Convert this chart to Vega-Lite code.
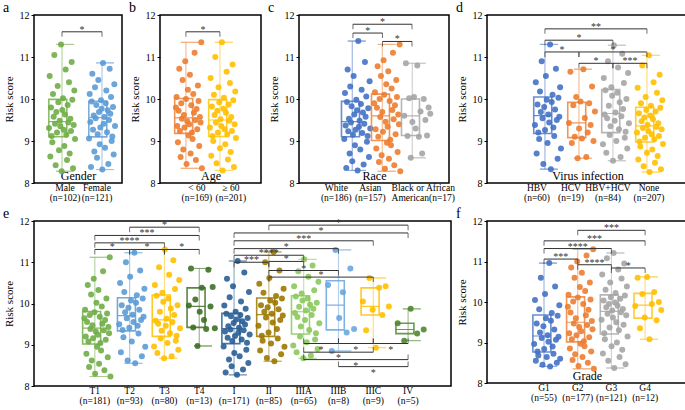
{
"$schema": "https://vega.github.io/schema/vega-lite/v6.json",
"padding": {"left": 2, "top": 0, "right": 0, "bottom": 0},
"background": "white",
"spacing": 3,
"resolve": {"scale": {"color": "independent"}},
"datasets": {
"a": [
{"g":"Male","v":9.31},{"g":"Male","v":10.55},{"g":"Male","v":8.63},{"g":"Male","v":9.8},{"g":"Male","v":9.12},{"g":"Male","v":8.97},{"g":"Male","v":10.12},{"g":"Male","v":9.58},{"g":"Male","v":11.05},{"g":"Male","v":9.41},
{"g":"Male","v":8.42},{"g":"Male","v":9.69},{"g":"Male","v":9.2},{"g":"Male","v":10.31},{"g":"Male","v":9.92},{"g":"Male","v":8.78},{"g":"Male","v":9.48},{"g":"Male","v":9.35},{"g":"Male","v":11.3},{"g":"Male","v":8.28},
{"g":"Male","v":9.74},{"g":"Male","v":10.02},{"g":"Male","v":9.27},{"g":"Male","v":8.88},{"g":"Male","v":9.63},{"g":"Male","v":10.7},{"g":"Male","v":9.15},{"g":"Male","v":8.55},{"g":"Male","v":9.86},{"g":"Male","v":9.44},
{"g":"Male","v":10.4},{"g":"Male","v":8.7},{"g":"Male","v":9.53},{"g":"Male","v":9.24},{"g":"Male","v":10.88},{"g":"Male","v":9.98},{"g":"Male","v":8.35},{"g":"Male","v":9.38},{"g":"Male","v":10.2},{"g":"Male","v":9.05},
{"g":"Female","v":9.06},{"g":"Female","v":10.12},{"g":"Female","v":9.45},{"g":"Female","v":8.38},{"g":"Female","v":9.94},{"g":"Female","v":10.6},{"g":"Female","v":9.27},{"g":"Female","v":9.61},{"g":"Female","v":8.75},{"g":"Female","v":10.28},
{"g":"Female","v":9.54},{"g":"Female","v":9.86},{"g":"Female","v":8.6},{"g":"Female","v":9.16},{"g":"Female","v":10.45},{"g":"Female","v":9.69},{"g":"Female","v":8.92},{"g":"Female","v":9.32},{"g":"Female","v":9.97},{"g":"Female","v":9.77},
{"g":"Female","v":8.32},{"g":"Female","v":10.86},{"g":"Female","v":9.41},{"g":"Female","v":9.57},{"g":"Female","v":8.84},{"g":"Female","v":9.9},{"g":"Female","v":10.2},{"g":"Female","v":9.21},{"g":"Female","v":9.73},{"g":"Female","v":8.45},
{"g":"Female","v":9.5},{"g":"Female","v":10.72},{"g":"Female","v":9.65},{"g":"Female","v":10.05},{"g":"Female","v":9.0},{"g":"Female","v":9.11},{"g":"Female","v":9.81},{"g":"Female","v":8.68},{"g":"Female","v":10.35},{"g":"Female","v":9.36}
],
"a_br": [{"id":1,"x1":1,"x2":2,"y":11.6,"lab":"*"}],
"b": [
{"g":"<60","v":9.8},{"g":"<60","v":10.05},{"g":"<60","v":9.36},{"g":"<60","v":8.97},{"g":"<60","v":9.72},{"g":"<60","v":10.72},{"g":"<60","v":9.24},{"g":"<60","v":8.62},{"g":"<60","v":9.9},{"g":"<60","v":9.53},
{"g":"<60","v":10.45},{"g":"<60","v":8.8},{"g":"<60","v":9.62},{"g":"<60","v":9.32},{"g":"<60","v":10.9},{"g":"<60","v":10.0},{"g":"<60","v":8.45},{"g":"<60","v":9.47},{"g":"<60","v":10.22},{"g":"<60","v":9.13},
{"g":"<60","v":9.4},{"g":"<60","v":10.58},{"g":"<60","v":8.7},{"g":"<60","v":9.85},{"g":"<60","v":9.2},{"g":"<60","v":9.05},{"g":"<60","v":10.12},{"g":"<60","v":9.67},{"g":"<60","v":11.1},{"g":"<60","v":9.5},
{"g":"<60","v":8.55},{"g":"<60","v":9.76},{"g":"<60","v":9.28},{"g":"<60","v":10.32},{"g":"<60","v":9.95},{"g":"<60","v":8.88},{"g":"<60","v":9.57},{"g":"<60","v":9.44},{"g":"<60","v":11.35},{"g":"<60","v":8.35},
{"g":"≥60","v":9.32},{"g":"≥60","v":10.5},{"g":"≥60","v":8.65},{"g":"≥60","v":9.82},{"g":"≥60","v":9.12},{"g":"≥60","v":9.0},{"g":"≥60","v":10.1},{"g":"≥60","v":9.62},{"g":"≥60","v":11.0},{"g":"≥60","v":9.44},
{"g":"≥60","v":8.47},{"g":"≥60","v":9.72},{"g":"≥60","v":9.2},{"g":"≥60","v":10.28},{"g":"≥60","v":9.92},{"g":"≥60","v":8.83},{"g":"≥60","v":9.52},{"g":"≥60","v":9.36},{"g":"≥60","v":11.35},{"g":"≥60","v":8.3},
{"g":"≥60","v":9.77},{"g":"≥60","v":10.03},{"g":"≥60","v":9.28},{"g":"≥60","v":8.92},{"g":"≥60","v":9.67},{"g":"≥60","v":10.65},{"g":"≥60","v":9.16},{"g":"≥60","v":8.56},{"g":"≥60","v":9.87},{"g":"≥60","v":9.48},
{"g":"≥60","v":10.38},{"g":"≥60","v":8.74},{"g":"≥60","v":9.57},{"g":"≥60","v":9.24},{"g":"≥60","v":10.82},{"g":"≥60","v":9.97},{"g":"≥60","v":8.38},{"g":"≥60","v":9.4},{"g":"≥60","v":10.18},{"g":"≥60","v":9.07}
],
"b_br": [{"id":1,"x1":1,"x2":2,"y":11.6,"lab":"*"}],
"c": [
{"g":"White","v":9.05},{"g":"White","v":10.14},{"g":"White","v":9.37},{"g":"White","v":8.36},{"g":"White","v":9.93},{"g":"White","v":10.7},{"g":"White","v":9.23},{"g":"White","v":9.53},{"g":"White","v":8.7},{"g":"White","v":10.3},
{"g":"White","v":9.44},{"g":"White","v":9.83},{"g":"White","v":8.52},{"g":"White","v":9.15},{"g":"White","v":10.55},{"g":"White","v":9.63},{"g":"White","v":8.9},{"g":"White","v":9.27},{"g":"White","v":9.98},{"g":"White","v":9.73},
{"g":"White","v":8.3},{"g":"White","v":11.38},{"g":"White","v":9.34},{"g":"White","v":9.48},{"g":"White","v":8.8},{"g":"White","v":9.88},{"g":"White","v":10.22},{"g":"White","v":9.19},{"g":"White","v":9.68},{"g":"White","v":8.44},
{"g":"White","v":9.41},{"g":"White","v":10.88},{"g":"White","v":9.58},{"g":"White","v":10.06},{"g":"White","v":8.98},{"g":"White","v":9.12},{"g":"White","v":9.78},{"g":"White","v":8.62},{"g":"White","v":10.42},{"g":"White","v":9.3},
{"g":"Asian","v":9.9},{"g":"Asian","v":10.16},{"g":"Asian","v":9.28},{"g":"Asian","v":8.82},{"g":"Asian","v":9.79},{"g":"Asian","v":10.78},{"g":"Asian","v":9.1},{"g":"Asian","v":8.5},{"g":"Asian","v":10.0},{"g":"Asian","v":9.57},
{"g":"Asian","v":10.55},{"g":"Asian","v":8.66},{"g":"Asian","v":9.69},{"g":"Asian","v":9.22},{"g":"Asian","v":10.92},{"g":"Asian","v":10.1},{"g":"Asian","v":8.34},{"g":"Asian","v":9.46},{"g":"Asian","v":10.35},{"g":"Asian","v":8.96},
{"g":"Asian","v":9.34},{"g":"Asian","v":10.66},{"g":"Asian","v":8.58},{"g":"Asian","v":9.95},{"g":"Asian","v":9.03},{"g":"Asian","v":8.9},{"g":"Asian","v":10.25},{"g":"Asian","v":9.74},{"g":"Asian","v":11.1},{"g":"Asian","v":9.52},
{"g":"Asian","v":8.42},{"g":"Asian","v":9.85},{"g":"Asian","v":9.16},{"g":"Asian","v":10.45},{"g":"Asian","v":10.05},{"g":"Asian","v":8.74},{"g":"Asian","v":9.63},{"g":"Asian","v":9.4},{"g":"Asian","v":11.3},{"g":"Asian","v":8.28},
{"g":"Black","v":9.6},{"g":"Black","v":10.85},{"g":"Black","v":9.12},{"g":"Black","v":10.02},{"g":"Black","v":8.6},{"g":"Black","v":9.45},{"g":"Black","v":10.05},{"g":"Black","v":9.3},{"g":"Black","v":10.8},{"g":"Black","v":9.1},
{"g":"Black","v":9.7},{"g":"Black","v":8.7},{"g":"Black","v":10.0},{"g":"Black","v":9.5},{"g":"Black","v":9.13},{"g":"Black","v":9.8},{"g":"Black","v":9.65}
],
"c_br": [{"id":1,"x1":1,"x2":3,"y":11.78,"lab":"*"},{"id":2,"x1":1,"x2":2,"y":11.57,"lab":"*"},{"id":3,"x1":2,"x2":3,"y":11.37,"lab":"*"}],
"d": [
{"g":"HBV","v":9.38},{"g":"HBV","v":10.4},{"g":"HBV","v":8.7},{"g":"HBV","v":9.87},{"g":"HBV","v":9.2},{"g":"HBV","v":9.05},{"g":"HBV","v":10.18},{"g":"HBV","v":9.69},{"g":"HBV","v":10.9},{"g":"HBV","v":9.54},
{"g":"HBV","v":8.45},{"g":"HBV","v":9.81},{"g":"HBV","v":9.26},{"g":"HBV","v":10.55},{"g":"HBV","v":9.98},{"g":"HBV","v":8.95},{"g":"HBV","v":9.63},{"g":"HBV","v":9.44},{"g":"HBV","v":11.3},{"g":"HBV","v":8.33},
{"g":"HBV","v":9.93},{"g":"HBV","v":10.1},{"g":"HBV","v":9.32},{"g":"HBV","v":9.12},{"g":"HBV","v":9.75},{"g":"HBV","v":10.72},{"g":"HBV","v":9.5},{"g":"HBV","v":8.58},{"g":"HBV","v":10.03},{"g":"HBV","v":9.58},
{"g":"HBV","v":10.28},{"g":"HBV","v":8.82},
{"g":"HCV","v":9.43},{"g":"HCV","v":10.65},{"g":"HCV","v":8.95},{"g":"HCV","v":9.85},{"g":"HCV","v":9.1},{"g":"HCV","v":10.05},{"g":"HCV","v":8.59},{"g":"HCV","v":9.3},{"g":"HCV","v":9.94},{"g":"HCV","v":9.06},
{"g":"HCV","v":10.71},{"g":"HCV","v":9.55},{"g":"HCV","v":8.62},{"g":"HCV","v":9.2},{"g":"HCV","v":9.9},{"g":"HCV","v":9.38},{"g":"HCV","v":10.3},{"g":"HCV","v":9.0},{"g":"HCV","v":9.7},
{"g":"HBV+HCV","v":8.92},{"g":"HBV+HCV","v":10.5},{"g":"HBV+HCV","v":9.63},{"g":"HBV+HCV","v":10.21},{"g":"HBV+HCV","v":8.72},{"g":"HBV+HCV","v":9.54},{"g":"HBV+HCV","v":10.9},{"g":"HBV+HCV","v":9.84},{"g":"HBV+HCV","v":9.14},{"g":"HBV+HCV","v":9.35},
{"g":"HBV+HCV","v":10.28},{"g":"HBV+HCV","v":10.08},{"g":"HBV+HCV","v":8.53},{"g":"HBV+HCV","v":11.28},{"g":"HBV+HCV","v":9.48},{"g":"HBV+HCV","v":9.68},{"g":"HBV+HCV","v":9.0},{"g":"HBV+HCV","v":10.15},{"g":"HBV+HCV","v":10.75},{"g":"HBV+HCV","v":9.28},
{"g":"HBV+HCV","v":9.92},{"g":"HBV+HCV","v":8.62},{"g":"HBV+HCV","v":9.59},{"g":"HBV+HCV","v":11.08},{"g":"HBV+HCV","v":9.76},{"g":"HBV+HCV","v":10.38},{"g":"HBV+HCV","v":9.08},{"g":"HBV+HCV","v":9.22},{"g":"HBV+HCV","v":10.0},{"g":"HBV+HCV","v":8.82},
{"g":"HBV+HCV","v":10.62},{"g":"HBV+HCV","v":9.42},
{"g":"None","v":9.2},{"g":"None","v":10.27},{"g":"None","v":8.56},{"g":"None","v":9.66},{"g":"None","v":8.99},{"g":"None","v":8.87},{"g":"None","v":9.9},{"g":"None","v":9.47},{"g":"None","v":10.8},{"g":"None","v":9.31},
{"g":"None","v":8.4},{"g":"None","v":9.56},{"g":"None","v":9.08},{"g":"None","v":10.05},{"g":"None","v":9.74},{"g":"None","v":8.72},{"g":"None","v":9.38},{"g":"None","v":9.24},{"g":"None","v":11.04},{"g":"None","v":8.26},
{"g":"None","v":9.61},{"g":"None","v":9.84},{"g":"None","v":9.16},{"g":"None","v":8.8},{"g":"None","v":9.52},{"g":"None","v":10.4},{"g":"None","v":9.04},{"g":"None","v":8.48},{"g":"None","v":9.7},{"g":"None","v":9.34},
{"g":"None","v":10.15},{"g":"None","v":8.64},{"g":"None","v":9.42},{"g":"None","v":9.12},{"g":"None","v":10.58},{"g":"None","v":9.79},{"g":"None","v":8.33},{"g":"None","v":9.28},{"g":"None","v":9.97},{"g":"None","v":8.93}
],
"d_br": [{"id":1,"x1":1,"x2":4,"y":11.67,"lab":"**"},{"id":2,"x1":1,"x2":3,"y":11.4,"lab":"*"},{"id":3,"x1":1,"x2":2,"y":11.12,"lab":"*"},{"id":4,"x1":2,"x2":4,"y":11.12,"lab":"*"},{"id":5,"x1":2,"x2":3,"y":10.85,"lab":"*"},{"id":6,"x1":3,"x2":4,"y":10.85,"lab":"***"}],
"e": [
{"g":"T1","v":9.64},{"g":"T1","v":9.85},{"g":"T1","v":9.2},{"g":"T1","v":8.78},{"g":"T1","v":9.55},{"g":"T1","v":10.45},{"g":"T1","v":9.08},{"g":"T1","v":8.46},{"g":"T1","v":9.72},{"g":"T1","v":9.38},
{"g":"T1","v":10.22},{"g":"T1","v":8.62},{"g":"T1","v":9.47},{"g":"T1","v":9.16},{"g":"T1","v":10.6},{"g":"T1","v":9.79},{"g":"T1","v":8.3},{"g":"T1","v":9.32},{"g":"T1","v":10.02},{"g":"T1","v":8.95},
{"g":"T1","v":9.24},{"g":"T1","v":10.33},{"g":"T1","v":8.54},{"g":"T1","v":9.68},{"g":"T1","v":9.04},{"g":"T1","v":8.86},{"g":"T1","v":9.93},{"g":"T1","v":9.51},{"g":"T1","v":10.78},{"g":"T1","v":9.35},
{"g":"T1","v":8.38},{"g":"T1","v":9.6},{"g":"T1","v":9.12},{"g":"T1","v":10.12},{"g":"T1","v":9.76},{"g":"T1","v":8.7},{"g":"T1","v":9.43},{"g":"T1","v":9.28},{"g":"T1","v":11.12},{"g":"T1","v":8.23},
{"g":"T2","v":9.5},{"g":"T2","v":10.5},{"g":"T2","v":8.82},{"g":"T2","v":9.96},{"g":"T2","v":9.36},{"g":"T2","v":9.18},{"g":"T2","v":10.28},{"g":"T2","v":9.79},{"g":"T2","v":11.0},{"g":"T2","v":9.64},
{"g":"T2","v":8.62},{"g":"T2","v":9.9},{"g":"T2","v":9.41},{"g":"T2","v":10.65},{"g":"T2","v":10.07},{"g":"T2","v":9.08},{"g":"T2","v":9.73},{"g":"T2","v":9.55},{"g":"T2","v":11.23},{"g":"T2","v":8.55},
{"g":"T2","v":10.02},{"g":"T2","v":10.2},{"g":"T2","v":9.46},{"g":"T2","v":9.27},{"g":"T2","v":9.85},{"g":"T2","v":10.8},{"g":"T2","v":9.6},{"g":"T2","v":8.72},{"g":"T2","v":10.12},{"g":"T2","v":9.68},
{"g":"T2","v":10.36},{"g":"T2","v":8.95},
{"g":"T3","v":8.96},{"g":"T3","v":10.45},{"g":"T3","v":9.58},{"g":"T3","v":10.19},{"g":"T3","v":8.8},{"g":"T3","v":9.51},{"g":"T3","v":10.88},{"g":"T3","v":9.8},{"g":"T3","v":9.15},{"g":"T3","v":9.34},
{"g":"T3","v":10.26},{"g":"T3","v":10.04},{"g":"T3","v":8.67},{"g":"T3","v":11.31},{"g":"T3","v":9.46},{"g":"T3","v":9.63},{"g":"T3","v":9.04},{"g":"T3","v":10.12},{"g":"T3","v":10.7},{"g":"T3","v":9.28},
{"g":"T3","v":9.88},{"g":"T3","v":8.72},{"g":"T3","v":9.55},{"g":"T3","v":11.05},{"g":"T3","v":9.72},{"g":"T3","v":10.35},{"g":"T3","v":9.1},{"g":"T3","v":9.22},{"g":"T3","v":9.96},{"g":"T3","v":8.88},
{"g":"T3","v":10.57},{"g":"T3","v":9.4},
{"g":"T4","v":9.95},{"g":"T4","v":10.85},{"g":"T4","v":9.42},{"g":"T4","v":10.1},{"g":"T4","v":8.97},{"g":"T4","v":9.8},{"g":"T4","v":10.38},{"g":"T4","v":9.6},{"g":"T4","v":9.38},{"g":"T4","v":10.82},
{"g":"T4","v":9.93},{"g":"T4","v":10.4},{"g":"T4","v":9.4},
{"g":"I","v":8.96},{"g":"I","v":9.95},{"g":"I","v":9.32},{"g":"I","v":8.33},{"g":"I","v":9.75},{"g":"I","v":10.6},{"g":"I","v":9.17},{"g":"I","v":9.45},{"g":"I","v":8.64},{"g":"I","v":10.15},
{"g":"I","v":9.37},{"g":"I","v":9.69},{"g":"I","v":8.48},{"g":"I","v":9.09},{"g":"I","v":10.42},{"g":"I","v":9.53},{"g":"I","v":8.8},{"g":"I","v":9.21},{"g":"I","v":9.8},{"g":"I","v":9.61},
{"g":"I","v":8.27},{"g":"I","v":11.03},{"g":"I","v":9.29},{"g":"I","v":9.41},{"g":"I","v":8.72},{"g":"I","v":9.72},{"g":"I","v":10.05},{"g":"I","v":9.13},{"g":"I","v":9.57},{"g":"I","v":8.4},
{"g":"I","v":9.35},{"g":"I","v":10.75},{"g":"I","v":9.49},{"g":"I","v":9.87},{"g":"I","v":8.88},{"g":"I","v":9.05},{"g":"I","v":9.65},{"g":"I","v":8.56},{"g":"I","v":10.28},{"g":"I","v":9.25},
{"g":"II","v":9.46},{"g":"II","v":10.48},{"g":"II","v":8.86},{"g":"II","v":9.96},{"g":"II","v":9.22},{"g":"II","v":9.1},{"g":"II","v":10.26},{"g":"II","v":9.8},{"g":"II","v":11.0},{"g":"II","v":9.66},
{"g":"II","v":8.68},{"g":"II","v":9.91},{"g":"II","v":9.3},{"g":"II","v":10.62},{"g":"II","v":10.07},{"g":"II","v":9.03},{"g":"II","v":9.75},{"g":"II","v":9.54},{"g":"II","v":11.25},{"g":"II","v":8.6},
{"g":"II","v":10.02},{"g":"II","v":10.18},{"g":"II","v":9.38},{"g":"II","v":9.15},{"g":"II","v":9.86},{"g":"II","v":10.8},{"g":"II","v":9.6},{"g":"II","v":8.77},{"g":"II","v":10.12},{"g":"II","v":9.71},
{"g":"II","v":10.36},{"g":"II","v":8.95},
{"g":"IIIA","v":8.98},{"g":"IIIA","v":10.42},{"g":"IIIA","v":9.77},{"g":"IIIA","v":10.17},{"g":"IIIA","v":8.82},{"g":"IIIA","v":9.67},{"g":"IIIA","v":10.78},{"g":"IIIA","v":9.92},{"g":"IIIA","v":9.2},{"g":"IIIA","v":9.44},
{"g":"IIIA","v":10.24},{"g":"IIIA","v":10.07},{"g":"IIIA","v":8.67},{"g":"IIIA","v":11.07},{"g":"IIIA","v":9.6},{"g":"IIIA","v":9.83},{"g":"IIIA","v":9.06},{"g":"IIIA","v":10.12},{"g":"IIIA","v":10.65},{"g":"IIIA","v":9.36},
{"g":"IIIA","v":9.97},{"g":"IIIA","v":8.74},{"g":"IIIA","v":9.72},{"g":"IIIA","v":10.92},{"g":"IIIA","v":9.87},{"g":"IIIA","v":10.32},{"g":"IIIA","v":9.13},{"g":"IIIA","v":9.28},{"g":"IIIA","v":10.02},{"g":"IIIA","v":8.9},
{"g":"IIIA","v":10.53},{"g":"IIIA","v":9.52},
{"g":"IIIB","v":10.45},{"g":"IIIB","v":8.85},{"g":"IIIB","v":11.3},{"g":"IIIB","v":9.65},{"g":"IIIB","v":10.27},{"g":"IIIB","v":9.3},{"g":"IIIB","v":10.85},{"g":"IIIB","v":9.38},
{"g":"IIIC","v":10.05},{"g":"IIIC","v":9.35},{"g":"IIIC","v":10.62},{"g":"IIIC","v":9.85},{"g":"IIIC","v":8.93},{"g":"IIIC","v":10.38},{"g":"IIIC","v":9.72},{"g":"IIIC","v":10.42},{"g":"IIIC","v":9.93},
{"g":"IV","v":9.52},{"g":"IV","v":9.1},{"g":"IV","v":9.87},{"g":"IV","v":9.27},{"g":"IV","v":9.37}
],
"e_br": [
{"id":1,"x1":2,"x2":4,"y":11.85,"lab":"*","d":1},{"id":2,"x1":1,"x2":4,"y":11.65,"lab":"***","d":1},{"id":3,"x1":1,"x2":3,"y":11.47,"lab":"****","d":1},
{"id":4,"x1":1,"x2":2,"y":11.31,"lab":"*","d":1},{"id":5,"x1":2,"x2":3,"y":11.31,"lab":"*","d":1},{"id":6,"x1":3,"x2":4,"y":11.31,"lab":"*","d":1},
{"id":7,"x1":6,"x2":10,"y":11.9,"lab":"*","d":1},{"id":8,"x1":5,"x2":10,"y":11.71,"lab":"*","d":1},{"id":9,"x1":5,"x2":9,"y":11.52,"lab":"***","d":1},
{"id":10,"x1":5,"x2":8,"y":11.33,"lab":"*","d":1},{"id":11,"x1":5,"x2":7,"y":11.17,"lab":"****","d":1},{"id":12,"x1":5,"x2":6,"y":11.0,"lab":"***","d":1},
{"id":13,"x1":6,"x2":7,"y":11.02,"lab":"*","d":1},{"id":14,"x1":6,"x2":8,"y":10.8,"lab":"*","d":1},{"id":15,"x1":6,"x2":9,"y":10.64,"lab":"*","d":1},
{"id":16,"x1":7,"x2":8,"y":9.03,"lab":"*","d":-1},{"id":17,"x1":8,"x2":9,"y":9.03,"lab":"*","d":-1},{"id":18,"x1":9,"x2":10,"y":9.03,"lab":"*","d":-1},
{"id":19,"x1":7,"x2":9,"y":8.82,"lab":"*","d":-1},{"id":20,"x1":7,"x2":10,"y":8.64,"lab":"*","d":-1},{"id":21,"x1":8,"x2":10,"y":8.47,"lab":"*","d":-1}
],
"f": [
{"g":"G1","v":8.96},{"g":"G1","v":10.05},{"g":"G1","v":8.55},{"g":"G1","v":9.47},{"g":"G1","v":8.78},{"g":"G1","v":8.68},{"g":"G1","v":9.82},{"g":"G1","v":9.25},{"g":"G1","v":10.6},{"g":"G1","v":9.11},
{"g":"G1","v":8.45},{"g":"G1","v":9.4},{"g":"G1","v":8.84},{"g":"G1","v":10.2},{"g":"G1","v":9.6},{"g":"G1","v":8.64},{"g":"G1","v":9.18},{"g":"G1","v":9.02},{"g":"G1","v":10.96},{"g":"G1","v":8.41},
{"g":"G1","v":9.54},{"g":"G1","v":9.73},{"g":"G1","v":8.9},{"g":"G1","v":8.72},{"g":"G1","v":9.32},{"g":"G1","v":10.38},{"g":"G1","v":9.07},{"g":"G1","v":8.5},{"g":"G1","v":9.66},{"g":"G1","v":9.14},
{"g":"G1","v":9.92},{"g":"G1","v":8.6},
{"g":"G2","v":9.88},{"g":"G2","v":10.18},{"g":"G2","v":9.23},{"g":"G2","v":8.85},{"g":"G2","v":9.74},{"g":"G2","v":10.85},{"g":"G2","v":9.08},{"g":"G2","v":8.57},{"g":"G2","v":10.01},{"g":"G2","v":9.47},
{"g":"G2","v":10.6},{"g":"G2","v":8.71},{"g":"G2","v":9.6},{"g":"G2","v":9.18},{"g":"G2","v":11.0},{"g":"G2","v":10.11},{"g":"G2","v":8.42},{"g":"G2","v":9.38},{"g":"G2","v":10.37},{"g":"G2","v":8.97},
{"g":"G2","v":9.28},{"g":"G2","v":10.72},{"g":"G2","v":8.64},{"g":"G2","v":9.95},{"g":"G2","v":9.03},{"g":"G2","v":8.91},{"g":"G2","v":10.27},{"g":"G2","v":9.67},{"g":"G2","v":11.15},{"g":"G2","v":9.43},
{"g":"G2","v":8.5},{"g":"G2","v":9.81},{"g":"G2","v":9.13},{"g":"G2","v":10.48},{"g":"G2","v":10.06},{"g":"G2","v":8.78},{"g":"G2","v":9.53},{"g":"G2","v":9.33},{"g":"G2","v":11.3},{"g":"G2","v":8.35},
{"g":"G3","v":9.56},{"g":"G3","v":10.68},{"g":"G3","v":8.73},{"g":"G3","v":10.04},{"g":"G3","v":9.23},{"g":"G3","v":9.08},{"g":"G3","v":10.3},{"g":"G3","v":9.87},{"g":"G3","v":11.08},{"g":"G3","v":9.71},
{"g":"G3","v":8.55},{"g":"G3","v":9.95},{"g":"G3","v":9.37},{"g":"G3","v":10.48},{"g":"G3","v":10.12},{"g":"G3","v":8.91},{"g":"G3","v":9.79},{"g":"G3","v":9.62},{"g":"G3","v":11.21},{"g":"G3","v":8.37},
{"g":"G3","v":9.99},{"g":"G3","v":10.22},{"g":"G3","v":9.5},{"g":"G3","v":9.0},{"g":"G3","v":9.91},{"g":"G3","v":10.8},{"g":"G3","v":9.3},{"g":"G3","v":8.64},{"g":"G3","v":10.08},{"g":"G3","v":9.75},
{"g":"G3","v":10.58},{"g":"G3","v":8.82},{"g":"G3","v":9.83},{"g":"G3","v":9.44},{"g":"G3","v":10.95},{"g":"G3","v":10.16},{"g":"G3","v":8.46},{"g":"G3","v":9.67},{"g":"G3","v":10.38},{"g":"G3","v":9.15},
{"g":"G4","v":9.9},{"g":"G4","v":10.6},{"g":"G4","v":9.35},{"g":"G4","v":10.2},{"g":"G4","v":9.62},{"g":"G4","v":10.62},{"g":"G4","v":9.08},{"g":"G4","v":9.95},{"g":"G4","v":10.25},{"g":"G4","v":9.55},
{"g":"G4","v":10.0},{"g":"G4","v":9.8}
],
"f_br": [{"id":1,"x1":2,"x2":4,"y":11.77,"lab":"***"},{"id":2,"x1":1,"x2":4,"y":11.51,"lab":"***"},{"id":3,"x1":1,"x2":3,"y":11.32,"lab":"****"},{"id":4,"x1":1,"x2":2,"y":11.06,"lab":"***"},{"id":5,"x1":2,"x2":3,"y":10.92,"lab":"****"},{"id":6,"x1":3,"x2":4,"y":10.84,"lab":"*"}]
},
"vconcat": [
{"hconcat": [
{
"width": 88, "height": 168, "title": "a",
"layer": [
{"data": {"name": "a"},
"transform": [{"window": [{"op": "row_number", "as": "i"}], "groupby": ["g"]}, {"window": [{"op": "percent_rank", "as": "j"}], "sort": [{"field": "i"}], "groupby": ["g"]}],
"encoding": {
"x": {"field": "g", "type": "nominal", "scale": {"domain": ["Male","Female"], "paddingInner": 0, "paddingOuter": 0.1, "align": 1},
"axis": {"title": "Gender", "labelOffset": {"condition": {"test": "datum.value == 'Male'", "value": 3}, "value": -5}, "labelExpr": "[datum.label, ['(n=102)','(n=121)'][indexof(['Male','Female'], datum.label)]]"}},
"color": {"field": "g", "type": "nominal", "scale": {"domain": ["Male","Female"], "range": ["#70AD47","#5B9BD5"]}, "legend": null}},
"layer": [
{"mark": {"type": "circle", "size": 36, "opacity": 0.9}, "encoding": {"xOffset": {"field": "j", "type": "quantitative", "scale": {"domain": [0,1], "range": [7,33]}}, "y": {"field": "v", "type": "quantitative", "scale": {"domain": [8,12]}, "axis": {"title": "Risk score", "values": [8,9,10,11,12]}}}},
{"transform": [{"aggregate": [{"op": "min", "field": "v", "as": "lo"}, {"op": "max", "field": "v", "as": "hi"}], "groupby": ["g"]}], "mark": {"type": "rule", "strokeWidth": 1.2, "opacity": 0.5}, "encoding": {"y": {"field": "lo", "type": "quantitative", "scale": {"domain": [8,12]}}, "y2": {"field": "hi"}}},
{"transform": [{"aggregate": [{"op": "q1", "field": "v", "as": "q1"}, {"op": "q3", "field": "v", "as": "q3"}], "groupby": ["g"]}], "mark": {"type": "bar", "filled": false, "strokeWidth": 1.6, "opacity": 0.8, "width": {"band": 0.66}}, "encoding": {"y": {"field": "q1", "type": "quantitative", "scale": {"domain": [8,12]}}, "y2": {"field": "q3"}}},
{"transform": [{"aggregate": [{"op": "median", "field": "v", "as": "md"}], "groupby": ["g"]}], "mark": {"type": "bar", "filled": false, "strokeWidth": 1.2, "opacity": 0.8, "width": {"band": 0.66}}, "encoding": {"y": {"field": "md", "type": "quantitative", "scale": {"domain": [8,12]}}, "y2": {"field": "md"}}},
{"transform": [{"aggregate": [{"op": "min", "field": "v", "as": "lo"}, {"op": "max", "field": "v", "as": "hi"}], "groupby": ["g"]}, {"fold": ["lo","hi"], "as": ["k","w"]}], "mark": {"type": "bar", "filled": false, "strokeWidth": 1, "opacity": 0.6, "width": {"band": 0.3}}, "encoding": {"y": {"field": "w", "type": "quantitative", "scale": {"domain": [8,12]}}, "y2": {"field": "w"}}}
]},
{"data": {"name": "a_br"},
"layer": [
{"mark": {"type": "rule", "color": "#333", "strokeWidth": 1}, "encoding": {"x": {"field": "x1", "type": "quantitative", "scale": {"domain": [0.3,2.5]}, "axis": null}, "x2": {"field": "x2"}, "y": {"field": "y", "type": "quantitative", "scale": {"domain": [8,12]}}}},
{"transform": [{"fold": ["x1","x2"], "as": ["k","xv"]}], "mark": {"type": "tick", "orient": "vertical", "size": 5, "thickness": 1, "color": "#333", "yOffset": 2.5}, "encoding": {"x": {"field": "xv", "type": "quantitative", "scale": {"domain": [0.3,2.5]}, "axis": null}, "y": {"field": "y", "type": "quantitative", "scale": {"domain": [8,12]}}}},
{"transform": [{"fold": ["x1","x2"], "as": ["k","xv"]}, {"aggregate": [{"op": "mean", "field": "xv", "as": "xm"}], "groupby": ["id","y","lab"]}], "mark": {"type": "text", "fontSize": 10, "color": "#333", "baseline": "alphabetic", "dy": 1}, "encoding": {"x": {"field": "xm", "type": "quantitative", "scale": {"domain": [0.3,2.5]}, "axis": null}, "y": {"field": "y", "type": "quantitative", "scale": {"domain": [8,12]}}, "text": {"field": "lab"}}}
]}
],
"resolve": {"scale": {"x": "independent"}}
},
{
"width": 101, "height": 168, "title": "b",
"layer": [
{"data": {"name": "b"},
"transform": [{"window": [{"op": "row_number", "as": "i"}], "groupby": ["g"]}, {"window": [{"op": "percent_rank", "as": "j"}], "sort": [{"field": "i"}], "groupby": ["g"]}],
"encoding": {
"x": {"field": "g", "type": "nominal", "scale": {"domain": ["<60","≥60"], "paddingInner": 0, "paddingOuter": 0.485, "align": 0.27},
"axis": {"title": "Age", "labelOffset": 11, "labelExpr": "[['< 60','≥ 60'][indexof(['<60','≥60'], datum.label)], ['(n=169)','(n=201)'][indexof(['<60','≥60'], datum.label)]]"}},
"color": {"field": "g", "type": "nominal", "scale": {"domain": ["<60","≥60"], "range": ["#ED7D31","#FFC000"]}, "legend": null}},
"layer": [
{"mark": {"type": "circle", "size": 36, "opacity": 0.9}, "encoding": {"xOffset": {"field": "j", "type": "quantitative", "scale": {"domain": [0,1], "range": [6,28]}}, "y": {"field": "v", "type": "quantitative", "scale": {"domain": [8,12]}, "axis": {"title": "Risk score", "values": [8,9,10,11,12]}}}},
{"transform": [{"aggregate": [{"op": "min", "field": "v", "as": "lo"}, {"op": "max", "field": "v", "as": "hi"}], "groupby": ["g"]}], "mark": {"type": "rule", "strokeWidth": 1.2, "opacity": 0.5}, "encoding": {"y": {"field": "lo", "type": "quantitative", "scale": {"domain": [8,12]}}, "y2": {"field": "hi"}}},
{"transform": [{"aggregate": [{"op": "q1", "field": "v", "as": "q1"}, {"op": "q3", "field": "v", "as": "q3"}], "groupby": ["g"]}], "mark": {"type": "bar", "filled": false, "strokeWidth": 1.6, "opacity": 0.8, "width": {"band": 0.66}}, "encoding": {"y": {"field": "q1", "type": "quantitative", "scale": {"domain": [8,12]}}, "y2": {"field": "q3"}}},
{"transform": [{"aggregate": [{"op": "median", "field": "v", "as": "md"}], "groupby": ["g"]}], "mark": {"type": "bar", "filled": false, "strokeWidth": 1.2, "opacity": 0.8, "width": {"band": 0.66}}, "encoding": {"y": {"field": "md", "type": "quantitative", "scale": {"domain": [8,12]}}, "y2": {"field": "md"}}},
{"transform": [{"aggregate": [{"op": "min", "field": "v", "as": "lo"}, {"op": "max", "field": "v", "as": "hi"}], "groupby": ["g"]}, {"fold": ["lo","hi"], "as": ["k","w"]}], "mark": {"type": "bar", "filled": false, "strokeWidth": 1, "opacity": 0.6, "width": {"band": 0.3}}, "encoding": {"y": {"field": "w", "type": "quantitative", "scale": {"domain": [8,12]}}, "y2": {"field": "w"}}}
]},
{"data": {"name": "b_br"},
"layer": [
{"mark": {"type": "rule", "color": "#333", "strokeWidth": 1}, "encoding": {"x": {"field": "x1", "type": "quantitative", "scale": {"domain": [0.238,3.209]}, "axis": null}, "x2": {"field": "x2"}, "y": {"field": "y", "type": "quantitative", "scale": {"domain": [8,12]}}}},
{"transform": [{"fold": ["x1","x2"], "as": ["k","xv"]}], "mark": {"type": "tick", "orient": "vertical", "size": 5, "thickness": 1, "color": "#333", "yOffset": 2.5}, "encoding": {"x": {"field": "xv", "type": "quantitative", "scale": {"domain": [0.238,3.209]}, "axis": null}, "y": {"field": "y", "type": "quantitative", "scale": {"domain": [8,12]}}}},
{"transform": [{"fold": ["x1","x2"], "as": ["k","xv"]}, {"aggregate": [{"op": "mean", "field": "xv", "as": "xm"}], "groupby": ["id","y","lab"]}], "mark": {"type": "text", "fontSize": 10, "color": "#333", "baseline": "alphabetic", "dy": 1}, "encoding": {"x": {"field": "xm", "type": "quantitative", "scale": {"domain": [0.238,3.209]}, "axis": null}, "y": {"field": "y", "type": "quantitative", "scale": {"domain": [8,12]}}, "text": {"field": "lab"}}}
]}
],
"resolve": {"scale": {"x": "independent"}}
},
{
"width": 150, "height": 168, "title": "c",
"layer": [
{"data": {"name": "c"},
"transform": [{"window": [{"op": "row_number", "as": "i"}], "groupby": ["g"]}, {"window": [{"op": "percent_rank", "as": "j"}], "sort": [{"field": "i"}], "groupby": ["g"]}],
"encoding": {
"x": {"field": "g", "type": "nominal", "scale": {"domain": ["White","Asian","Black"], "paddingInner": 0, "paddingOuter": 1.04, "align": 0.638},
"axis": {"title": "Race", "labelOffset": {"condition": [{"test": "datum.value == 'White'", "value": -16}, {"test": "datum.value == 'Asian'", "value": -12}], "value": 11}, "labelExpr": "[['White','Asian','Black or African'][indexof(['White','Asian','Black'], datum.label)], ['(n=186)','(n=157)','American(n=17)'][indexof(['White','Asian','Black'], datum.label)]]"}},
"color": {"field": "g", "type": "nominal", "scale": {"domain": ["White","Asian","Black"], "range": ["#4472C4","#ED7D31","#A5A5A5"]}, "legend": null}},
"layer": [
{"mark": {"type": "circle", "size": 36, "opacity": 0.9}, "encoding": {"xOffset": {"field": "j", "type": "quantitative", "scale": {"domain": [0,1], "range": [5.5,24]}}, "y": {"field": "v", "type": "quantitative", "scale": {"domain": [8,12]}, "axis": {"title": "Risk score", "values": [8,9,10,11,12]}}}},
{"transform": [{"aggregate": [{"op": "min", "field": "v", "as": "lo"}, {"op": "max", "field": "v", "as": "hi"}], "groupby": ["g"]}], "mark": {"type": "rule", "strokeWidth": 1.2, "opacity": 0.5}, "encoding": {"y": {"field": "lo", "type": "quantitative", "scale": {"domain": [8,12]}}, "y2": {"field": "hi"}}},
{"transform": [{"aggregate": [{"op": "q1", "field": "v", "as": "q1"}, {"op": "q3", "field": "v", "as": "q3"}], "groupby": ["g"]}], "mark": {"type": "bar", "filled": false, "strokeWidth": 1.6, "opacity": 0.8, "width": {"band": 0.72}}, "encoding": {"y": {"field": "q1", "type": "quantitative", "scale": {"domain": [8,12]}}, "y2": {"field": "q3"}}},
{"transform": [{"aggregate": [{"op": "median", "field": "v", "as": "md"}], "groupby": ["g"]}], "mark": {"type": "bar", "filled": false, "strokeWidth": 1.2, "opacity": 0.8, "width": {"band": 0.72}}, "encoding": {"y": {"field": "md", "type": "quantitative", "scale": {"domain": [8,12]}}, "y2": {"field": "md"}}},
{"transform": [{"aggregate": [{"op": "min", "field": "v", "as": "lo"}, {"op": "max", "field": "v", "as": "hi"}], "groupby": ["g"]}, {"fold": ["lo","hi"], "as": ["k","w"]}], "mark": {"type": "bar", "filled": false, "strokeWidth": 1, "opacity": 0.6, "width": {"band": 0.3}}, "encoding": {"y": {"field": "w", "type": "quantitative", "scale": {"domain": [8,12]}}, "y2": {"field": "w"}}}
]},
{"data": {"name": "c_br"},
"layer": [
{"mark": {"type": "rule", "color": "#333", "strokeWidth": 1}, "encoding": {"x": {"field": "x1", "type": "quantitative", "scale": {"domain": [-0.827,4.253]}, "axis": null}, "x2": {"field": "x2"}, "y": {"field": "y", "type": "quantitative", "scale": {"domain": [8,12]}}}},
{"transform": [{"fold": ["x1","x2"], "as": ["k","xv"]}], "mark": {"type": "tick", "orient": "vertical", "size": 5, "thickness": 1, "color": "#333", "yOffset": 2.5}, "encoding": {"x": {"field": "xv", "type": "quantitative", "scale": {"domain": [-0.827,4.253]}, "axis": null}, "y": {"field": "y", "type": "quantitative", "scale": {"domain": [8,12]}}}},
{"transform": [{"fold": ["x1","x2"], "as": ["k","xv"]}, {"aggregate": [{"op": "mean", "field": "xv", "as": "xm"}], "groupby": ["id","y","lab"]}], "mark": {"type": "text", "fontSize": 10, "color": "#333", "baseline": "alphabetic", "dy": 1}, "encoding": {"x": {"field": "xm", "type": "quantitative", "scale": {"domain": [-0.827,4.253]}, "axis": null}, "y": {"field": "y", "type": "quantitative", "scale": {"domain": [8,12]}}, "text": {"field": "lab"}}}
]}
],
"resolve": {"scale": {"x": "independent"}}
},
{
"width": 201, "height": 168, "title": "d",
"layer": [
{"data": {"name": "d"},
"transform": [{"window": [{"op": "row_number", "as": "i"}], "groupby": ["g"]}, {"window": [{"op": "percent_rank", "as": "j"}], "sort": [{"field": "i"}], "groupby": ["g"]}],
"encoding": {
"x": {"field": "g", "type": "nominal", "scale": {"domain": ["HBV","HCV","HBV+HCV","None"], "paddingInner": 0, "paddingOuter": 0.956, "align": 0.63},
"axis": {"title": "Virus infection", "labelOffset": {"condition": [{"test": "datum.value == 'HBV'", "value": -8}, {"test": "datum.value == 'HCV'", "value": -8}, {"test": "datum.value == 'HBV+HCV'", "value": -5}], "value": 2}, "labelExpr": "[datum.label, ['(n=60)','(n=19)','(n=84)','(n=207)'][indexof(['HBV','HCV','HBV+HCV','None'], datum.label)]]"}},
"color": {"field": "g", "type": "nominal", "scale": {"domain": ["HBV","HCV","HBV+HCV","None"], "range": ["#4472C4","#ED7D31","#A5A5A5","#FFC000"]}, "legend": null}},
"layer": [
{"mark": {"type": "circle", "size": 36, "opacity": 0.9}, "encoding": {"xOffset": {"field": "j", "type": "quantitative", "scale": {"domain": [0,1], "range": [6,28]}}, "y": {"field": "v", "type": "quantitative", "scale": {"domain": [8,12]}, "axis": {"title": "Risk score", "values": [8,9,10,11,12]}}}},
{"transform": [{"aggregate": [{"op": "min", "field": "v", "as": "lo"}, {"op": "max", "field": "v", "as": "hi"}], "groupby": ["g"]}], "mark": {"type": "rule", "strokeWidth": 1.2, "opacity": 0.5}, "encoding": {"y": {"field": "lo", "type": "quantitative", "scale": {"domain": [8,12]}}, "y2": {"field": "hi"}}},
{"transform": [{"aggregate": [{"op": "q1", "field": "v", "as": "q1"}, {"op": "q3", "field": "v", "as": "q3"}], "groupby": ["g"]}], "mark": {"type": "bar", "filled": false, "strokeWidth": 1.6, "opacity": 0.8, "width": {"band": 0.66}}, "encoding": {"y": {"field": "q1", "type": "quantitative", "scale": {"domain": [8,12]}}, "y2": {"field": "q3"}}},
{"transform": [{"aggregate": [{"op": "median", "field": "v", "as": "md"}], "groupby": ["g"]}], "mark": {"type": "bar", "filled": false, "strokeWidth": 1.2, "opacity": 0.8, "width": {"band": 0.66}}, "encoding": {"y": {"field": "md", "type": "quantitative", "scale": {"domain": [8,12]}}, "y2": {"field": "md"}}},
{"transform": [{"aggregate": [{"op": "min", "field": "v", "as": "lo"}, {"op": "max", "field": "v", "as": "hi"}], "groupby": ["g"]}, {"fold": ["lo","hi"], "as": ["k","w"]}], "mark": {"type": "bar", "filled": false, "strokeWidth": 1, "opacity": 0.6, "width": {"band": 0.3}}, "encoding": {"y": {"field": "w", "type": "quantitative", "scale": {"domain": [8,12]}}, "y2": {"field": "w"}}}
]},
{"data": {"name": "d_br"},
"layer": [
{"mark": {"type": "rule", "color": "#333", "strokeWidth": 1}, "encoding": {"x": {"field": "x1", "type": "quantitative", "scale": {"domain": [-0.704,5.208]}, "axis": null}, "x2": {"field": "x2"}, "y": {"field": "y", "type": "quantitative", "scale": {"domain": [8,12]}}}},
{"transform": [{"fold": ["x1","x2"], "as": ["k","xv"]}], "mark": {"type": "tick", "orient": "vertical", "size": 5, "thickness": 1, "color": "#333", "yOffset": 2.5}, "encoding": {"x": {"field": "xv", "type": "quantitative", "scale": {"domain": [-0.704,5.208]}, "axis": null}, "y": {"field": "y", "type": "quantitative", "scale": {"domain": [8,12]}}}},
{"transform": [{"fold": ["x1","x2"], "as": ["k","xv"]}, {"aggregate": [{"op": "mean", "field": "xv", "as": "xm"}], "groupby": ["id","y","lab"]}], "mark": {"type": "text", "fontSize": 10, "color": "#333", "baseline": "alphabetic", "dy": 1}, "encoding": {"x": {"field": "xm", "type": "quantitative", "scale": {"domain": [-0.704,5.208]}, "axis": null}, "y": {"field": "y", "type": "quantitative", "scale": {"domain": [8,12]}}, "text": {"field": "lab"}}}
]}
],
"resolve": {"scale": {"x": "independent"}}
}
], "spacing": 38, "bounds": "flush", "resolve": {"scale": {"color": "independent"}}},
{"hconcat": [
{
"width": 417, "height": 165, "title": "e",
"layer": [
{"data": {"name": "e"},
"transform": [{"window": [{"op": "row_number", "as": "i"}], "groupby": ["g"]}, {"window": [{"op": "percent_rank", "as": "j"}], "sort": [{"field": "i"}], "groupby": ["g"]}],
"encoding": {
"x": {"field": "g", "type": "nominal", "scale": {"domain": ["T1","T2","T3","T4","I","II","IIIA","IIIB","IIIC","IV"], "paddingInner": 0, "paddingOuter": 0.99, "align": 0.63},
"axis": {"title": null, "labelExpr": "[datum.label, ['(n=181)','(n=93)','(n=80)','(n=13)','(n=171)','(n=85)','(n=65)','(n=8)','(n=9)','(n=5)'][indexof(['T1','T2','T3','T4','I','II','IIIA','IIIB','IIIC','IV'], datum.label)]]"}},
"color": {"field": "g", "type": "nominal", "scale": {"domain": ["T1","T2","T3","T4","I","II","IIIA","IIIB","IIIC","IV"], "range": ["#70AD47","#5B9BD5","#FFC000","#3E7026","#2A5E96","#9C7800","#8CC95C","#6AA6DE","#FFC000","#4E8A2E"]}, "legend": null}},
"layer": [
{"mark": {"type": "circle", "size": 36, "opacity": 0.9}, "encoding": {"xOffset": {"field": "j", "type": "quantitative", "scale": {"domain": [0,1], "range": [6,28.8]}}, "y": {"field": "v", "type": "quantitative", "scale": {"domain": [8,12]}, "axis": {"title": "Risk score", "values": [8,9,10,11,12]}}}},
{"transform": [{"aggregate": [{"op": "min", "field": "v", "as": "lo"}, {"op": "max", "field": "v", "as": "hi"}], "groupby": ["g"]}], "mark": {"type": "rule", "strokeWidth": 1.2, "opacity": 0.5}, "encoding": {"y": {"field": "lo", "type": "quantitative", "scale": {"domain": [8,12]}}, "y2": {"field": "hi"}}},
{"transform": [{"aggregate": [{"op": "q1", "field": "v", "as": "q1"}, {"op": "q3", "field": "v", "as": "q3"}], "groupby": ["g"]}], "mark": {"type": "bar", "filled": false, "strokeWidth": 1.6, "opacity": 0.85, "width": {"band": 0.7}}, "encoding": {"y": {"field": "q1", "type": "quantitative", "scale": {"domain": [8,12]}}, "y2": {"field": "q3"}}},
{"transform": [{"aggregate": [{"op": "median", "field": "v", "as": "md"}], "groupby": ["g"]}], "mark": {"type": "bar", "filled": false, "strokeWidth": 1.2, "opacity": 0.85, "width": {"band": 0.7}}, "encoding": {"y": {"field": "md", "type": "quantitative", "scale": {"domain": [8,12]}}, "y2": {"field": "md"}}},
{"transform": [{"aggregate": [{"op": "min", "field": "v", "as": "lo"}, {"op": "max", "field": "v", "as": "hi"}], "groupby": ["g"]}, {"fold": ["lo","hi"], "as": ["k","w"]}], "mark": {"type": "bar", "filled": false, "strokeWidth": 1, "opacity": 0.6, "width": {"band": 0.3}}, "encoding": {"y": {"field": "w", "type": "quantitative", "scale": {"domain": [8,12]}}, "y2": {"field": "w"}}}
]},
{"data": {"name": "e_br"},
"layer": [
{"mark": {"type": "rule", "color": "#333", "strokeWidth": 1}, "encoding": {"x": {"field": "x1", "type": "quantitative", "scale": {"domain": [-0.747,11.233]}, "axis": null}, "x2": {"field": "x2"}, "y": {"field": "y", "type": "quantitative", "scale": {"domain": [8,12]}}}},
{"transform": [{"filter": "datum.d == 1"}, {"fold": ["x1","x2"], "as": ["k","xv"]}], "mark": {"type": "tick", "orient": "vertical", "size": 5, "thickness": 1, "color": "#333", "yOffset": 2.5}, "encoding": {"x": {"field": "xv", "type": "quantitative", "scale": {"domain": [-0.747,11.233]}, "axis": null}, "y": {"field": "y", "type": "quantitative", "scale": {"domain": [8,12]}}}},
{"transform": [{"filter": "datum.d == -1"}, {"fold": ["x1","x2"], "as": ["k","xv"]}], "mark": {"type": "tick", "orient": "vertical", "size": 5, "thickness": 1, "color": "#333", "yOffset": -2.5}, "encoding": {"x": {"field": "xv", "type": "quantitative", "scale": {"domain": [-0.747,11.233]}, "axis": null}, "y": {"field": "y", "type": "quantitative", "scale": {"domain": [8,12]}}}},
{"transform": [{"filter": "datum.d == 1"}, {"fold": ["x1","x2"], "as": ["k","xv"]}, {"aggregate": [{"op": "mean", "field": "xv", "as": "xm"}], "groupby": ["id","y","lab"]}], "mark": {"type": "text", "fontSize": 10, "color": "#333", "baseline": "alphabetic", "dy": 1}, "encoding": {"x": {"field": "xm", "type": "quantitative", "scale": {"domain": [-0.747,11.233]}, "axis": null}, "y": {"field": "y", "type": "quantitative", "scale": {"domain": [8,12]}}, "text": {"field": "lab"}}},
{"transform": [{"filter": "datum.d == -1"}, {"fold": ["x1","x2"], "as": ["k","xv"]}, {"aggregate": [{"op": "mean", "field": "xv", "as": "xm"}], "groupby": ["id","y","lab"]}], "mark": {"type": "text", "fontSize": 10, "color": "#333", "baseline": "alphabetic", "dy": 9}, "encoding": {"x": {"field": "xm", "type": "quantitative", "scale": {"domain": [-0.747,11.233]}, "axis": null}, "y": {"field": "y", "type": "quantitative", "scale": {"domain": [8,12]}}, "text": {"field": "lab"}}}
]}
],
"resolve": {"scale": {"x": "independent"}}
},
{
"width": 200, "height": 162, "title": "f",
"layer": [
{"data": {"name": "f"},
"transform": [{"window": [{"op": "row_number", "as": "i"}], "groupby": ["g"]}, {"window": [{"op": "percent_rank", "as": "j"}], "sort": [{"field": "i"}], "groupby": ["g"]}],
"encoding": {
"x": {"field": "g", "type": "nominal", "scale": {"domain": ["G1","G2","G3","G4"], "paddingInner": 0, "paddingOuter": 0.967, "align": 0.616},
"axis": {"title": "Grade", "labelExpr": "[datum.label, ['(n=55)','(n=177)','(n=121)','(n=12)'][indexof(['G1','G2','G3','G4'], datum.label)]]"}},
"color": {"field": "g", "type": "nominal", "scale": {"domain": ["G1","G2","G3","G4"], "range": ["#4472C4","#ED7D31","#A5A5A5","#FFC000"]}, "legend": null}},
"layer": [
{"mark": {"type": "circle", "size": 36, "opacity": 0.9}, "encoding": {"xOffset": {"field": "j", "type": "quantitative", "scale": {"domain": [0,1], "range": [6,27.7]}}, "y": {"field": "v", "type": "quantitative", "scale": {"domain": [8,12]}, "axis": {"title": "Risk score", "values": [8,9,10,11,12]}}}},
{"transform": [{"aggregate": [{"op": "min", "field": "v", "as": "lo"}, {"op": "max", "field": "v", "as": "hi"}], "groupby": ["g"]}], "mark": {"type": "rule", "strokeWidth": 1.2, "opacity": 0.5}, "encoding": {"y": {"field": "lo", "type": "quantitative", "scale": {"domain": [8,12]}}, "y2": {"field": "hi"}}},
{"transform": [{"aggregate": [{"op": "q1", "field": "v", "as": "q1"}, {"op": "q3", "field": "v", "as": "q3"}], "groupby": ["g"]}], "mark": {"type": "bar", "filled": false, "strokeWidth": 1.6, "opacity": 0.8, "width": {"band": 0.66}}, "encoding": {"y": {"field": "q1", "type": "quantitative", "scale": {"domain": [8,12]}}, "y2": {"field": "q3"}}},
{"transform": [{"aggregate": [{"op": "median", "field": "v", "as": "md"}], "groupby": ["g"]}], "mark": {"type": "bar", "filled": false, "strokeWidth": 1.2, "opacity": 0.8, "width": {"band": 0.66}}, "encoding": {"y": {"field": "md", "type": "quantitative", "scale": {"domain": [8,12]}}, "y2": {"field": "md"}}},
{"transform": [{"aggregate": [{"op": "min", "field": "v", "as": "lo"}, {"op": "max", "field": "v", "as": "hi"}], "groupby": ["g"]}, {"fold": ["lo","hi"], "as": ["k","w"]}], "mark": {"type": "bar", "filled": false, "strokeWidth": 1, "opacity": 0.6, "width": {"band": 0.3}}, "encoding": {"y": {"field": "w", "type": "quantitative", "scale": {"domain": [8,12]}}, "y2": {"field": "w"}}}
]},
{"data": {"name": "f_br"},
"layer": [
{"mark": {"type": "rule", "color": "#333", "strokeWidth": 1}, "encoding": {"x": {"field": "x1", "type": "quantitative", "scale": {"domain": [-0.692,5.243]}, "axis": null}, "x2": {"field": "x2"}, "y": {"field": "y", "type": "quantitative", "scale": {"domain": [8,12]}}}},
{"transform": [{"fold": ["x1","x2"], "as": ["k","xv"]}], "mark": {"type": "tick", "orient": "vertical", "size": 5, "thickness": 1, "color": "#333", "yOffset": 2.5}, "encoding": {"x": {"field": "xv", "type": "quantitative", "scale": {"domain": [-0.692,5.243]}, "axis": null}, "y": {"field": "y", "type": "quantitative", "scale": {"domain": [8,12]}}}},
{"transform": [{"fold": ["x1","x2"], "as": ["k","xv"]}, {"aggregate": [{"op": "mean", "field": "xv", "as": "xm"}], "groupby": ["id","y","lab"]}], "mark": {"type": "text", "fontSize": 10, "color": "#333", "baseline": "alphabetic", "dy": 1}, "encoding": {"x": {"field": "xm", "type": "quantitative", "scale": {"domain": [-0.692,5.243]}, "axis": null}, "y": {"field": "y", "type": "quantitative", "scale": {"domain": [8,12]}}, "text": {"field": "lab"}}}
]}
],
"resolve": {"scale": {"x": "independent"}}
}
], "spacing": 36, "bounds": "flush", "resolve": {"scale": {"color": "independent"}}}
],
"config": {
"font": "Liberation Serif",
"view": {"stroke": "#000", "strokeWidth": 1.5},
"axis": {"grid": false, "domain": false, "labelColor": "#000", "titleColor": "#000", "titleFontWeight": "normal", "labelFont": "Liberation Serif", "titleFont": "Liberation Serif", "tickColor": "#000"},
"axisY": {"tickSize": 3, "labelFontSize": 10, "titleFontSize": 11, "titlePadding": 5, "labelPadding": 2},
"axisX": {"ticks": false, "labelAngle": 0, "labelFontSize": 9.5, "labelLineHeight": 10.5, "labelPadding": -1, "labelBaseline": "top", "titleFontSize": 12, "titleY": -4, "titleBaseline": "alphabetic", "labelOverlap": false},
"title": {"anchor": "start", "frame": "bounds", "fontSize": 14, "fontWeight": "normal", "font": "Liberation Serif", "offset": -5, "color": "#000"}
}
}
